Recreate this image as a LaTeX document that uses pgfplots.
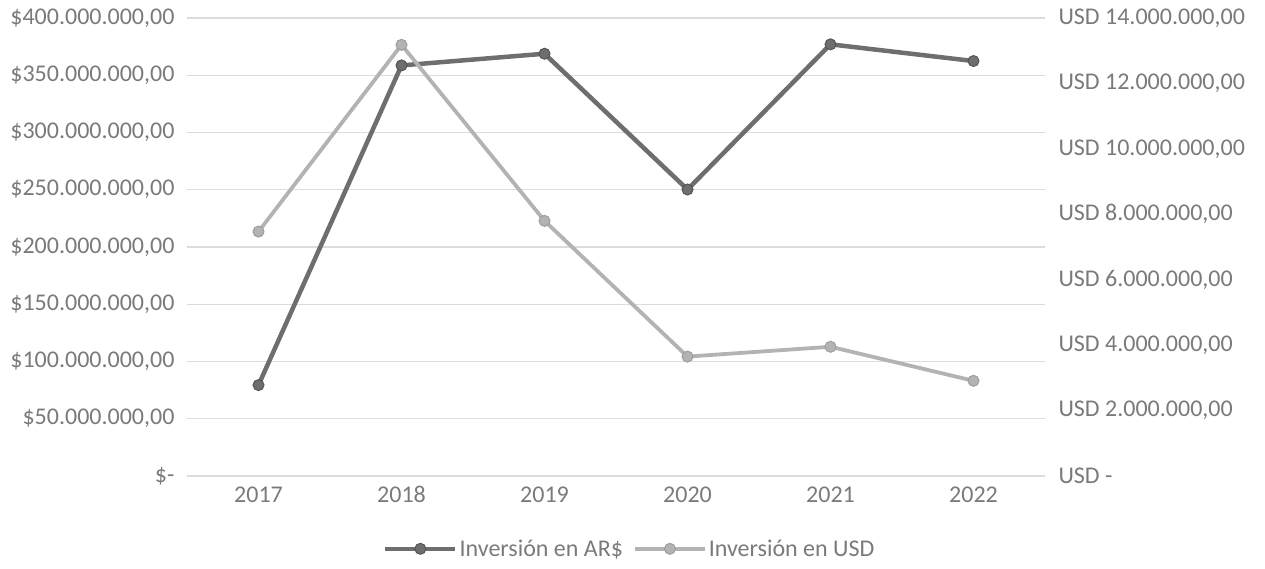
\documentclass[border=0pt]{standalone}
\usepackage{pgfplots}
\pgfplotsset{compat=1.18}
\usepackage{fontspec}
\setmainfont{Carlito}
\definecolor{darkser}{HTML}{6E6E6E}
\definecolor{darkedge}{HTML}{555555}
\definecolor{lightser}{HTML}{B3B3B3}
\definecolor{lightedge}{HTML}{9E9E9E}
\definecolor{ticktext}{HTML}{7A7A7A}
\definecolor{gridc}{HTML}{DCDCDC}
\pgfplotstableread{
year ars
2017 79400000
2018 358600000
2019 368800000
2020 250200000
2021 377000000
2022 362400000
}\arsdata
\pgfplotstableread{
year usd
2017 7470000
2018 13180000
2019 7800000
2020 3650000
2021 3950000
2022 2910000
}\usddata
\pgfplotsset{
  common/.style={
    scale only axis,
    width=858pt, height=458pt,
    at={(187pt,93pt)}, anchor=south west,
    xmin=2016.5, xmax=2022.5,
    axis line style={draw=none},
    major tick length=0pt,
    scaled y ticks=false, scaled x ticks=false,
    tick label style={font=\fontsize{24}{28}\selectfont, text=ticktext},
  },
  legline/.style={
    legend image code/.code={
      \draw[mark repeat=2,mark phase=2,##1] plot coordinates {(0pt,0pt) (35pt,0pt) (70pt,0pt)};
    }
  }
}
\begin{document}
\begin{tikzpicture}
\useasboundingbox (0,0) rectangle (1265pt,569pt);
\begin{axis}[common,
  ymin=0, ymax=400000000,
  ytick={0,50000000,100000000,150000000,200000000,250000000,300000000,350000000,400000000},
  yticklabels={{\$-},{\$50.000.000,00},{\$100.000.000,00},{\$150.000.000,00},{\$200.000.000,00},{\$250.000.000,00},{\$300.000.000,00},{\$350.000.000,00},{\$400.000.000,00}},
  yticklabel style={anchor=east, xshift=-9pt},
  ymajorgrids, grid style={gridc, line width=1.2pt},
  xtick={2017,2018,2019,2020,2021,2022},
  xticklabels={2017,2018,2019,2020,2021,2022},
  xticklabel style={yshift=-7pt},
]
\addplot[darkser, line width=4.5pt, mark=*, mark size=5.5pt, mark options={fill=darkser, draw=darkedge, line width=1pt}] table[x=year, y=ars] {\arsdata};
\end{axis}
\begin{axis}[common,
  axis y line*=right, axis x line=none,
  ymin=0, ymax=14000000,
  ytick={0,2000000,4000000,6000000,8000000,10000000,12000000,14000000},
  yticklabels={{USD -},{USD 2.000.000,00},{USD 4.000.000,00},{USD 6.000.000,00},{USD 8.000.000,00},{USD 10.000.000,00},{USD 12.000.000,00},{USD 14.000.000,00}},
  yticklabel style={anchor=west, xshift=10pt},
  legend columns=2,
  legend style={at={(axis description cs:0.516,-0.159)}, anchor=center, draw=none, fill=none,
    font=\fontsize{24}{28}\selectfont, text=ticktext, inner sep=0pt,
    /tikz/every even column/.append style={column sep=8pt}},
  legline,
]
\addlegendimage{darkser, line width=4.5pt, mark=*, mark size=5.5pt, mark options={fill=darkser, draw=darkedge, line width=1pt}}
\addlegendentry{Inversión en AR\$}
\addplot[lightser, line width=3.8pt, mark=*, mark size=5.5pt, mark options={fill=lightser, draw=lightedge, line width=1pt}] table[x=year, y=usd] {\usddata};
\addlegendentry{Inversión en USD}
\end{axis}
\end{tikzpicture}
\end{document}
